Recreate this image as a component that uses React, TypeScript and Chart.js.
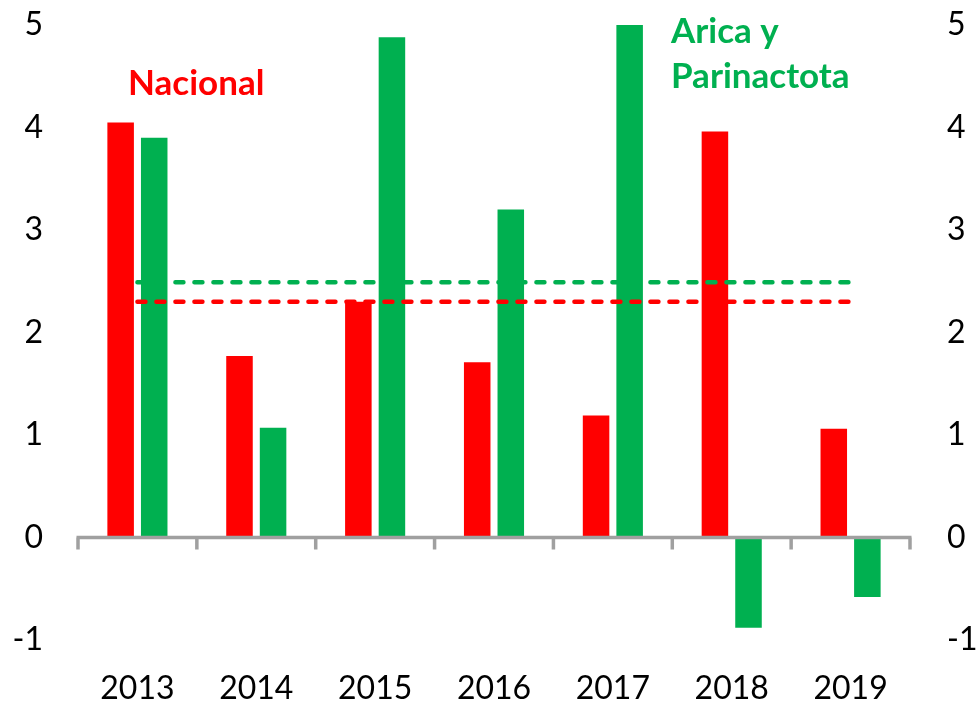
import React, { useEffect, useRef } from "react";
import { Chart, registerables } from "chart.js";

Chart.register(...registerables);

const years = ["2013", "2014", "2015", "2016", "2017", "2018", "2019"];
const nacional = [4.05, 1.77, 2.3, 1.71, 1.19, 3.96, 1.06];
const arica = [3.9, 1.07, 4.88, 3.2, 5.0, -0.88, -0.58];
const nacionalAvg = [2.3, 2.3, 2.3, 2.3, 2.3, 2.3, 2.3];
const aricaAvg = [2.49, 2.49, 2.49, 2.49, 2.49, 2.49, 2.49];
const yTicks = [-1, 0, 1, 2, 3, 4, 5];

const RED = "#FF0000";
const GREEN = "#00B050";
const FONT = "Lato, 'Open Sans', sans-serif";

const axisPlugin = {
  id: "zeroAxis",
  afterDatasetsDraw(chart: any) {
    const ctx = chart.ctx;
    const x = chart.scales.x;
    const y = chart.scales.y;
    const y0 = y.getPixelForValue(0);
    const n = years.length;
    const half = (x.getPixelForValue(1) - x.getPixelForValue(0)) / 2;
    const left = x.getPixelForValue(0) - half;
    const right = x.getPixelForValue(n - 1) + half;
    ctx.save();
    ctx.strokeStyle = "#A0A0A0";
    ctx.lineWidth = 3.5;
    ctx.lineCap = "butt";
    ctx.beginPath();
    ctx.moveTo(left - 1.5, y0);
    ctx.lineTo(right + 1.5, y0);
    for (let i = 0; i <= n; i++) {
      const px = x.getPixelForValue(0) - half + i * 2 * half;
      ctx.moveTo(px, y0);
      ctx.lineTo(px, y0 + 12);
    }
    ctx.stroke();
    ctx.restore();
  },
  afterDraw(chart: any) {
    const ctx = chart.ctx;
    ctx.save();
    ctx.font = "bold 35px " + FONT;
    ctx.textBaseline = "alphabetic";
    ctx.textAlign = "left";
    ctx.fillStyle = RED;
    ctx.fillText("Nacional", 128, 95);
    ctx.fillStyle = GREEN;
    ctx.fillText("Arica y", 671, 43);
    ctx.fillText("Parinactota", 671, 88);
    ctx.restore();
  },
};

export default function App() {
  const ref = useRef<HTMLCanvasElement | null>(null);
  useEffect(() => {
    if (!ref.current) return;
    const tickFont = { family: FONT, size: 32 };
    const fitY = (w: number) => (s: any) => {
      s.width = w;
      s.paddingTop = 0;
      s.paddingBottom = 0;
    };
    const chart = new Chart(ref.current, {
      type: "bar",
      data: {
        labels: years,
        datasets: [
          {
            type: "line",
            label: "Promedio Arica",
            data: aricaAvg,
            borderColor: GREEN,
            borderWidth: 4.5,
            borderDash: [8, 11],
            borderCapStyle: "round",
            pointRadius: 0,
            fill: false,
            order: 0,
          } as any,
          {
            type: "line",
            label: "Promedio Nacional",
            data: nacionalAvg,
            borderColor: RED,
            borderWidth: 4.5,
            borderDash: [8, 11],
            borderCapStyle: "round",
            pointRadius: 0,
            fill: false,
            order: 0,
          } as any,
          {
            label: "Nacional",
            data: nacional,
            backgroundColor: RED,
            categoryPercentage: 0.565,
            barPercentage: 0.79,
            order: 1,
          },
          {
            label: "Arica y Parinactota",
            data: arica,
            backgroundColor: GREEN,
            categoryPercentage: 0.565,
            barPercentage: 0.79,
            order: 1,
          },
        ],
      },
      options: {
        animation: false,
        responsive: false,
        maintainAspectRatio: false,
        layout: { padding: { top: 25, left: 0, right: 0, bottom: 0 } },
        plugins: {
          legend: { display: false },
          tooltip: { enabled: false },
        },
        scales: {
          x: {
            grid: { display: false, drawTicks: false },
            border: { display: false },
            ticks: { color: "#000", font: tickFont, padding: 29, maxRotation: 0 },
            afterFit: (s: any) => {
              s.height = 64;
            },
          },
          y: {
            position: "left",
            min: -1,
            max: 5,
            afterBuildTicks: (s: any) => {
              s.ticks = yTicks.map((v) => ({ value: v }));
            },
            grid: { display: false, drawTicks: false },
            border: { display: false },
            ticks: { color: "#000", font: tickFont, padding: 35 },
            afterFit: fitY(78),
          },
          y2: {
            position: "right",
            min: -1,
            max: 5,
            afterBuildTicks: (s: any) => {
              s.ticks = yTicks.map((v) => ({ value: v }));
            },
            grid: { display: false, drawTicks: false },
            border: { display: false },
            ticks: { color: "#000", font: tickFont, padding: 37 },
            afterFit: fitY(66),
          },
        },
      },
      plugins: [axisPlugin],
    });
    return () => chart.destroy();
  }, []);
  return (
    <div style={{ position: "fixed", left: 0, top: 0, width: 976, height: 704, background: "#fff" }}>
      <canvas ref={ref} width={976} height={704} style={{ width: 976, height: 704, display: "block" }} />
    </div>
  );
}
